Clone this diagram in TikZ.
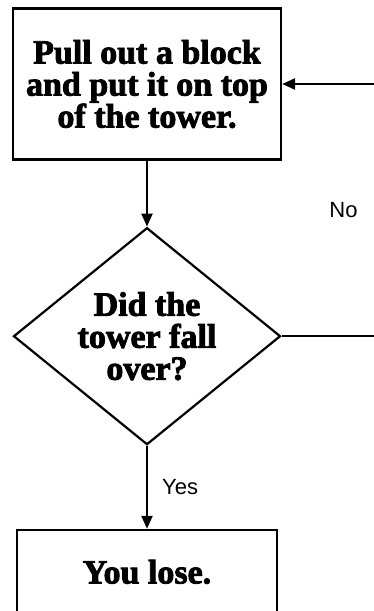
\documentclass[tikz,border=0pt]{standalone}
\usepackage{fontspec}
\setmainfont{Liberation Serif}[BoldFeatures={FakeBold=2.5}]
\newfontfamily\lblfont{Liberation Sans}
\usepackage{tikz}
\usetikzlibrary{shapes.geometric, arrows.meta, positioning}
\tikzset{
  actbox/.style ={rectangle, draw=black, line width=2.2pt, fill=white, align=center,
                  font=\fontsize{34}{32}\selectfont\bfseries, inner sep=0pt},
  askbox/.style ={actbox, diamond, aspect=1.23},
  ar/.style     ={-{Triangle[length=13pt, width=11pt]}, draw=black, line width=2.2pt},
  lbl/.style    ={font=\lblfont\fontsize{22}{24}\selectfont, inner sep=0pt},
}

\begin{document}
\begin{tikzpicture}
\useasboundingbox (0,0) rectangle (374pt,-611pt);
\clip (0,0) rectangle (374pt,-611pt);
\node[actbox, minimum width=268pt, minimum height=151pt] (pull) at (147pt,-84pt) {Pull out a block\\and put it on top\\of the tower.};
\node[askbox, minimum width=267pt, minimum height=217pt, below=66pt of pull] (fall) {Did the\\tower fall\\over?};
\node[actbox, minimum width=260pt, minimum height=84pt, below=83pt of fall] (lose) {You lose.};
\coordinate (noend) at ([xshift=101pt]fall.east);
\coordinate (loopin) at (noend |- pull.east);
\draw[ar] (pull) -- (fall);
\draw[ar] (fall) -- node[lbl, right=14pt] {Yes} (lose);
\draw[ar] (fall.east) -- (noend) -- node[lbl, left=24pt] {No} (loopin) -- (pull.east);
\end{tikzpicture}
\end{document}
